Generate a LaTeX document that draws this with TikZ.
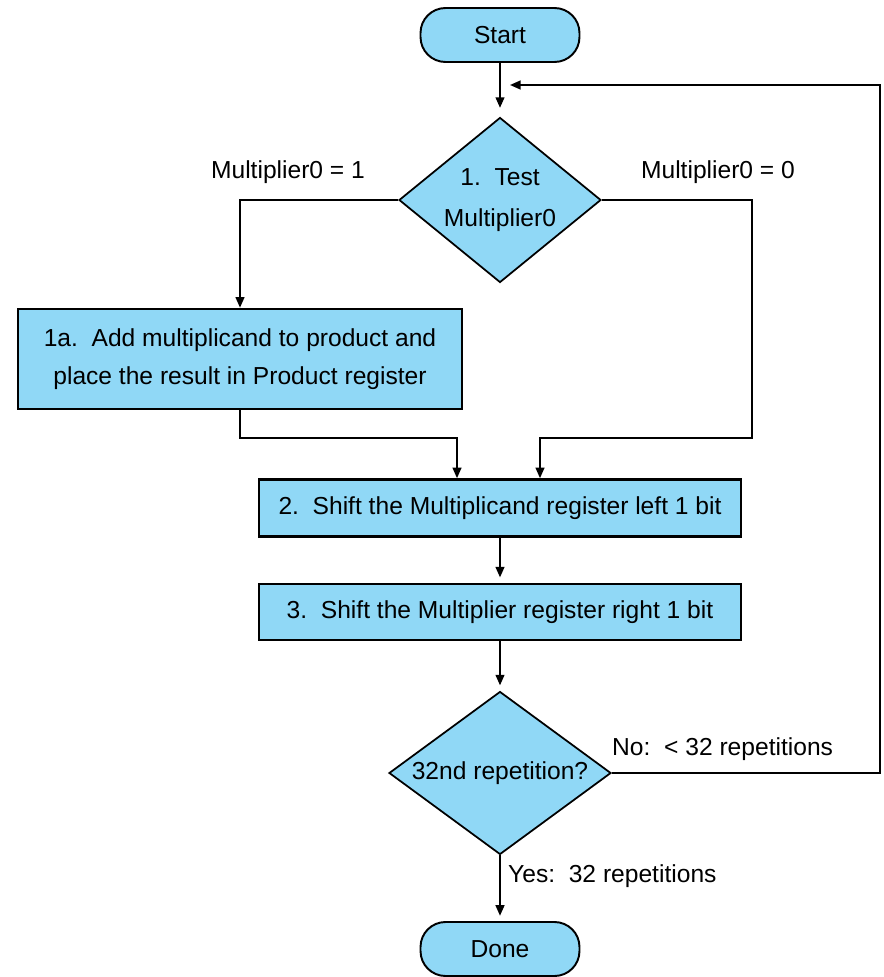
\documentclass[tikz,border=0pt]{standalone}
\usepackage{fontspec}
\setmainfont{Liberation Sans}
\usetikzlibrary{arrows.meta,positioning,shapes.geometric,calc}
\definecolor{fcblue}{RGB}{144,216,246}

\begin{document}
\begin{tikzpicture}[x=0.02cm,y=-0.02cm,font=\fontsize{14}{17}\selectfont,
  term/.style={draw,line width=1.1pt,fill=fcblue,rounded corners=0.5cm,
    minimum width=3.18cm,minimum height=1.08cm},
  stepbox/.style={draw,line width=1.5pt,fill=fcblue,align=center},
  test/.style={draw,diamond,line width=1pt,fill=fcblue,inner sep=0pt,align=center},
  arr/.style={-{Triangle[length=6pt,width=5pt]},line width=1pt},
  wire/.style={line width=1pt}]
  \useasboundingbox (0,0) rectangle (884,977);

  % Start / Done
  \node[term] (start) at (500,35) {Start};
  \node[term] (done) at (500,949) {Done};

  % Test 1
  \node[test,aspect=1.22,minimum width=4.04cm,minimum height=3.3cm] (test1) at (500,200)
    {1.\ \ Test\\[6pt]Multiplier0};
  \node (lab1) at (288,172) {Multiplier0 = 1};
  \node (lab0) at (718,172) {Multiplier0 = 0};

  % Steps
  \node[stepbox,minimum width=8.88cm,minimum height=2cm] (add) at (240,359)
    {1a.\ \ Add multiplicand to product and\\[5pt]place the result in Product register};
  \node[stepbox,minimum width=9.64cm,minimum height=1.14cm] (shl) at (500,508)
    {2.\ \ Shift the Multiplicand register left 1 bit};
  \node[stepbox,minimum width=9.64cm,minimum height=1.12cm] (shr) at (500,612)
    {3.\ \ Shift the Multiplier register right 1 bit};

  % Test 2
  \node[test,aspect=1.36,minimum width=4.44cm,minimum height=3.26cm] (test2) at (500,773)
    {32nd repetition?};
  \node[anchor=west] (labno) at (606,749) {No:\ \ < 32 repetitions};
  \node[anchor=west] (labyes) at (502,876) {Yes:\ \ 32 repetitions};

  % bend points
  \coordinate (ljoin) at (240,438);
  \coordinate (rjoin) at (752,438);
  \coordinate (inl) at ($(shl.north)+(-43,0)$);
  \coordinate (inr) at ($(shl.north)+(40,0)$);
  \coordinate (loopc) at (880,85);
  \coordinate (loopin) at (510,85);

  % connectors
  \draw[arr,shorten >=5pt] (start) -- (test1);
  \draw[arr] (test1.west) -| (add.north);
  \draw[arr] (add.south) |- (ljoin) -| (inl);
  \draw[arr] (test1.east) -| (rjoin) -| (inr);
  \draw[arr,shorten >=3pt] (shl) -- (shr);
  \draw[arr,shorten >=3pt] (shr) -- (test2);
  \draw[arr,shorten >=3pt] (test2) -- (done);
  \draw[arr] (test2.east) -| (loopc) -- (loopin);
\end{tikzpicture}
\end{document}
